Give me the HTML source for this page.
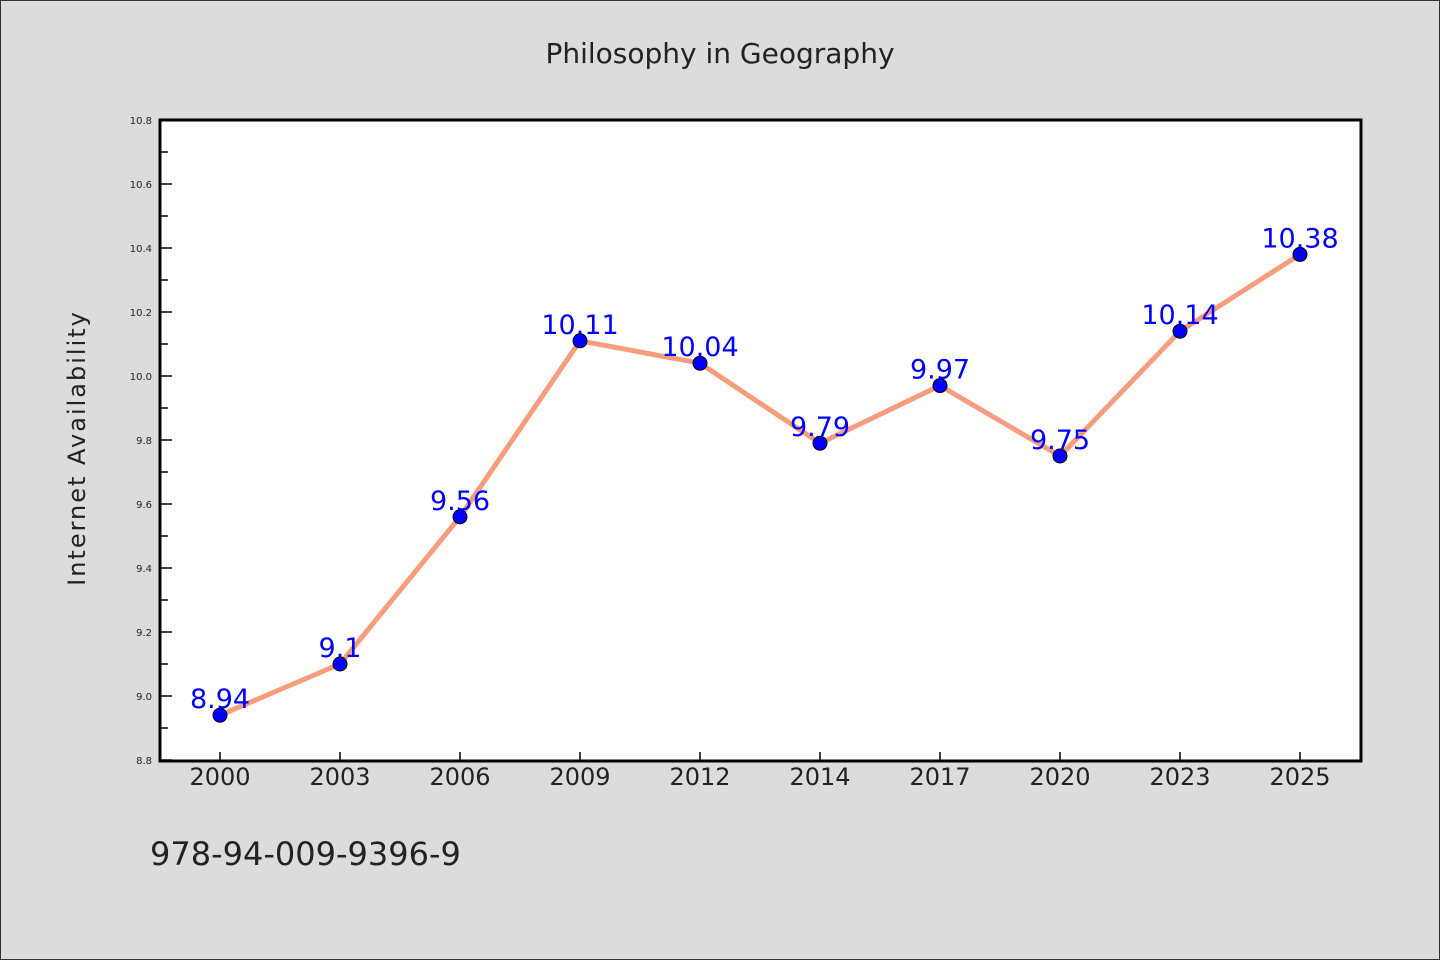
<!DOCTYPE html>
<html><head><meta charset="utf-8"><style>
body{margin:0;background:#dcdcdc;}
svg{display:block;}
text{font-family:"WenQuanYi Zen Hei","DejaVu Sans",sans-serif;}
</style></head><body>
<svg id="chart" width="1440" height="960" xmlns="http://www.w3.org/2000/svg">
<rect x="0.5" y="0.5" width="1439" height="959" fill="#dcdcdc" stroke="#333"/>
<text x="720" y="63" text-anchor="middle" font-size="28" fill="#222" font-family="DejaVu Sans Mono, monospace">Philosophy in Geography</text>
<rect x="160" y="120" width="1201" height="641" fill="#fff"/>
<g id="grid"></g>
<text transform="translate(85,448) rotate(-90)" text-anchor="middle" font-size="24" fill="#222" letter-spacing="2">Internet Availability</text>
<text x="150" y="865" font-size="32" fill="#222">978-94-009-9396-9</text>
<g id="marks"></g>
<rect x="160" y="120" width="1201" height="641" fill="none" stroke="#000" stroke-width="3"/>
</svg>
<script>
const categories=["2000","2003","2006","2009","2012","2014","2017","2020","2023","2025"];
const values=[8.94,9.1,9.56,10.11,10.04,9.79,9.97,9.75,10.14,10.38];
const labels=["8.94","9.1","9.56","10.11","10.04","9.79","9.97","9.75","10.14","10.38"];
const yTicks=["8.8","9.0","9.2","9.4","9.6","9.8","10.0","10.2","10.4","10.6","10.8"];
const yMin=8.8,yMax=10.8;
const NS="http://www.w3.org/2000/svg";
const x=i=>220+i*120;
const y=v=>760-(v-yMin)/(yMax-yMin)*640;
function mk(t,a,p){const e=document.createElementNS(NS,t);for(const k in a)e.setAttribute(k,a[k]);p.appendChild(e);return e;}
const g=document.getElementById('grid'),m=document.getElementById('marks');
yTicks.forEach((t,i)=>{const v=parseFloat(t);const yy=y(v);
 const l=mk('line',{x1:160,x2:172,y1:yy,y2:yy,stroke:'#000','stroke-width':1.5},g);
 
 
 const tx=mk('text',{x:152,y:yy+4,'text-anchor':'end','font-size':10,fill:'#222'},g);tx.textContent=t;
 
 
 if(i<yTicks.length-1){const ym=y(v+0.1);
  const n=mk('line',{x1:160,x2:168,y1:ym,y2:ym,stroke:'#000','stroke-width':1.5},g);
  
  }
});
categories.forEach((c,i)=>{
 const l=mk('line',{x1:x(i),x2:x(i),y1:752,y2:760,stroke:'#000','stroke-width':1.5},g);
 
 
 const t=mk('text',{x:x(i),y:785,'text-anchor':'middle','font-size':24,fill:'#222'},g);t.textContent=c;
 
 
});
const line=mk('polyline',{points:values.map((v,i)=>x(i)+','+y(v)).join(' '),fill:'none',stroke:'#f79c7c','stroke-width':5,'stroke-linejoin':'round'},m);


values.forEach((v,i)=>{
 const c=mk('circle',{cx:x(i),cy:y(v),r:7,fill:'#0000ff',stroke:'#000','stroke-width':1},m);
 
 
});
values.forEach((v,i)=>{
 const t=mk('text',{x:x(i),y:y(v)-7,'text-anchor':'middle','font-size':27,fill:'#0000ff'},m);t.textContent=labels[i];
 
 
});
</script>
</body></html>
